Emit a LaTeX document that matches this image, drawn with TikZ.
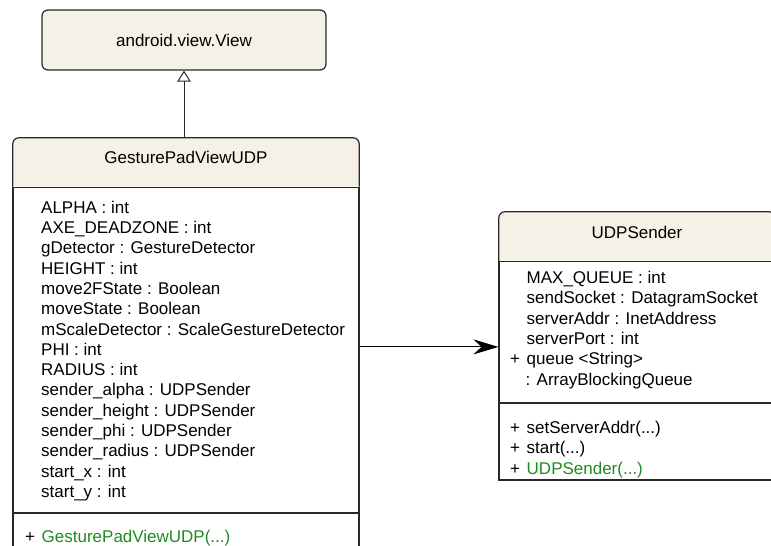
\documentclass[tikz,border=0pt]{standalone}
\usepackage{fontspec}
\setmainfont{Liberation Sans}
\usetikzlibrary{arrows.meta,backgrounds}

\definecolor{headfill}{RGB}{245,241,230}
\definecolor{ctorgreen}{RGB}{30,140,30}
\definecolor{umlline}{RGB}{40,40,40}

% visibility column and constructor colour
\newcommand{\vis}[1]{\makebox[16.5pt][l]{#1}}
\newcommand{\ctor}[1]{\textcolor{ctorgreen}{#1}}

\tikzset{
  umlfont/.style={font=\fontsize{17}{20.3}\selectfont},
  classtitle/.style={umlfont, inner sep=0pt, text height=12pt, text depth=9pt},
  headshape/.style={draw=umlline, fill=headfill, line width=1.2pt, rounded corners=6pt},
  compart/.style={draw=umlline, line width=1.2pt, inner sep=0pt},
  members/.style={umlfont, align=left, inner sep=0pt, anchor=north west},
  inherit/.style={draw=umlline, line width=1pt, -{Triangle[open, length=11pt, width=13.5pt]}},
  assoc/.style={draw=black, line width=1pt, -{Stealth[length=25pt, width=15pt]}}
}

\begin{document}
\begin{tikzpicture}[x=1pt,y=1pt,yscale=-1]
\clip (0,0) rectangle (771,546);

% superclass
\node[compart, umlfont, fill=headfill, rounded corners=6pt, minimum width=284pt, minimum height=60pt] (view) at (184,40) {android.view.View};

% GesturePadViewUDP
\node[classtitle, minimum width=346pt, minimum height=48.5pt] (gpv) at (186,162.25) {GesturePadViewUDP};
\node[compart, minimum width=346pt, minimum height=325.2pt, anchor=north] (gpvattr) at (gpv.south) {};
\node[compart, minimum width=346pt, minimum height=60pt, anchor=north] (gpvops) at (gpvattr.south) {};
\node[members] (gpvattrlist) at (41,200.7) {ALPHA : int\\
  AXE\_DEADZONE : int\\
  gDetector : GestureDetector\\
  HEIGHT : int\\
  move2FState : Boolean\\
  moveState : Boolean\\
  mScaleDetector : ScaleGestureDetector\\
  PHI : int\\
  RADIUS : int\\
  sender\_alpha : UDPSender\\
  sender\_height : UDPSender\\
  sender\_phi : UDPSender\\
  sender\_radius : UDPSender\\
  start\_x : int\\
  start\_y : int};
\node[members] (gpvopslist) at (25,530) {\vis{+}\ctor{GesturePadViewUDP(...)}};

% UDPSender
\node[classtitle, minimum width=276pt, minimum height=49pt] (udp) at (637,236.5) {UDPSender};
\node[compart, minimum width=276pt, minimum height=140.7pt, anchor=north] (udpattr) at (udp.south) {};
\node[compart, minimum width=276pt, minimum height=76.3pt, anchor=north] (udpops) at (udpattr.south) {};
\node[members] (udpattrlist) at (510,271) {\vis{}MAX\_QUEUE : int\\
  \vis{}sendSocket : DatagramSocket\\
  \vis{}serverAddr : InetAddress\\
  \vis{}serverPort : int\\
  \vis{+}queue <String>\\
  \hspace*{15.5pt}: ArrayBlockingQueue};
\node[members] (udpopslist) at (510,421) {\vis{+}setServerAddr(...)\\
  \vis{+}start(...)\\
  \vis{+}\ctor{UDPSender(...)}};

% header shapes, rounded on top only
\begin{scope}[on background layer]
  \filldraw[headshape] (gpv.south west) |- (gpv.north east) -- (gpv.south east);
  \filldraw[headshape] (udp.south west) |- (udp.north east) -- (udp.south east);
\end{scope}

% relations
\draw[inherit] (view.south |- gpv.north) -- (view.south);
\draw[assoc] ([yshift=-3pt]gpvattr.east) -- ([yshift=-3pt]gpvattr.east -| udpattr.west);

\end{tikzpicture}
\end{document}
